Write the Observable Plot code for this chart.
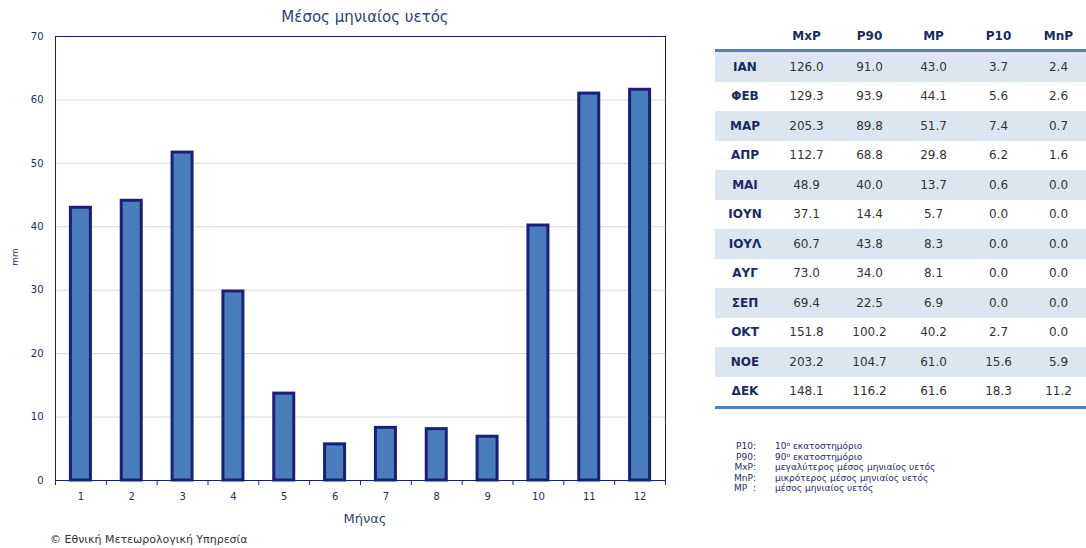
<!DOCTYPE html>
<html>
<head>
<meta charset="utf-8">
<script src="https://cdn.jsdelivr.net/npm/d3@7"></script>
<script src="https://cdn.jsdelivr.net/npm/@observablehq/plot@0.6"></script>
<style>
  html, body { margin: 0; padding: 0; background: #fff; }
  #wrap { position: relative; width: 1086px; height: 548px; overflow: hidden; font-family: "DejaVu Sans", Verdana, sans-serif; }
  .abs { position: absolute; white-space: nowrap; }
  #title { left: 0; width: 730px; top: 8px; text-align: center; font-size: 15px; color: #2f3f6e; }
  #xlabel { left: 0; width: 730px; top: 511px; text-align: center; font-size: 13px; color: #2f3f6e; }
  #ylabel { left: 6px; top: 252px; font-size: 9px; color: #1f2b5f; transform: rotate(-90deg); transform-origin: center; }
  #footer { left: 50px; top: 533px; font-size: 11px; color: #333; }
  #chart { left: 0; top: 0; }
  table.t { position: absolute; left: 715px; top: 22px; border-collapse: collapse; table-layout: fixed; font-size: 12px; color: #333; }
  table.t th { font-weight: bold; color: #1a2a5e; height: 27px; padding: 0; text-align: center; vertical-align: middle; border-bottom: 3px solid #4f81bd; }
  table.t td { height: 29.5px; padding: 0; text-align: center; vertical-align: middle; }
  table.t td.lab { font-weight: bold; color: #1a2a5e; }
  table.t tr.sh td { background: #dce6f1; }
  table.t tr.last td { border-bottom: 3px solid #4f81bd; }
  #legend { left: 730px; top: 441px; font-size: 9px; color: #1f2b5f; line-height: 10.5px; }
  #legend div { height: 10.5px; }
  #legend sup { font-size: 6px; line-height: 0; vertical-align: 3px; }
  #legend .k { display: inline-block; width: 26px; text-align: right; margin-right: 19px; }
</style>
</head>
<body>
<div id="wrap">
  <div id="chart" class="abs"></div>
  <div id="title" class="abs">Μέσος μηνιαίος υετός</div>
  <div id="xlabel" class="abs">Μήνας</div>
  <div id="ylabel" class="abs">mm</div>
  <div id="footer" class="abs">© Εθνική Μετεωρολογική Υπηρεσία</div>
  <div id="legend" class="abs"></div>
</div>
<script>
// ---- data ----
const months = [1, 2, 3, 4, 5, 6, 7, 8, 9, 10, 11, 12];
const meanRain = [43.0, 44.1, 51.7, 29.8, 13.7, 5.7, 8.3, 8.1, 6.9, 40.2, 61.0, 61.6];
const yTicks = [0, 10, 20, 30, 40, 50, 60, 70];

const monthAbbr = ["ΙΑΝ", "ΦΕΒ", "ΜΑΡ", "ΑΠΡ", "ΜΑΙ", "ΙΟΥΝ", "ΙΟΥΛ", "ΑΥΓ", "ΣΕΠ", "ΟΚΤ", "ΝΟΕ", "ΔΕΚ"];
const colHeaders = ["MxP", "P90", "MP", "P10", "MnP"];
const MxP = [126.0, 129.3, 205.3, 112.7, 48.9, 37.1, 60.7, 73.0, 69.4, 151.8, 203.2, 148.1];
const P90 = [91.0, 93.9, 89.8, 68.8, 40.0, 14.4, 43.8, 34.0, 22.5, 100.2, 104.7, 116.2];
const MP  = [43.0, 44.1, 51.7, 29.8, 13.7, 5.7, 8.3, 8.1, 6.9, 40.2, 61.0, 61.6];
const P10 = [3.7, 5.6, 7.4, 6.2, 0.6, 0.0, 0.0, 0.0, 0.0, 2.7, 15.6, 18.3];
const MnP = [2.4, 2.6, 0.7, 1.6, 0.0, 0.0, 0.0, 0.0, 0.0, 0.0, 5.9, 11.2];

const legendKeys = ["P10:", "P90:", "MxP:", "MnP:", "MP\u00a0\u00a0:"];
const legendTexts = ["10<sup>ο</sup> εκατοστημόριο", "90<sup>ο</sup> εκατοστημόριο",
  "μεγαλύτερος μέσος μηνιαίος υετός", "μικρότερος μέσος μηνιαίος υετός", "μέσος μηνιαίος υετός"];

// ---- chart ----
const rows = months.map((m, i) => ({month: m, value: meanRain[i]}));
const W = 680, ML = 55, MR = 15;
const step = (W - ML - MR) / months.length;
const navy = "#1b1f7c";
const textCol = "#1f2b5f";

const chart = Plot.plot({
  width: W,
  height: 530,
  marginLeft: ML,
  marginRight: MR,
  marginTop: 36,
  marginBottom: 50,
  style: {fontFamily: "DejaVu Sans, Verdana, sans-serif", background: "transparent"},
  x: {type: "band", domain: months, padding: 0, round: false, label: null},
  y: {domain: [0, 70], label: null},
  marks: [
    Plot.gridY(yTicks.slice(1, -1), {stroke: "#d9d9d9", strokeOpacity: 1}),
    Plot.barY(rows, {x: "month", y: "value", fill: "#4a7dbb", stroke: navy, strokeWidth: 3,
      insetLeft: (step - 20) / 2, insetRight: (step - 20) / 2}),
    Plot.frame({stroke: navy, strokeWidth: 1}),
    Plot.axisY(yTicks, {tickSize: 0, tickPadding: 12, fontSize: 10, fill: textCol, label: null}),
    Plot.axisX({tickSize: 0, tickPadding: 12, fontSize: 10, fill: textCol, label: null}),
    Plot.axisX(months, {tickSize: 5, stroke: navy, tickFormat: () => "", dx: -step / 2, label: null}),
    Plot.axisX([12], {tickSize: 5, stroke: navy, tickFormat: () => "", dx: step / 2, label: null})
  ]
});
document.getElementById("chart").appendChild(chart);

// ---- table ----
const widths = [60, 63, 63, 65, 65, 55];
const table = document.createElement("table");
table.className = "t";
const cg = document.createElement("colgroup");
widths.forEach(w => { const c = document.createElement("col"); c.style.width = w + "px"; cg.appendChild(c); });
table.appendChild(cg);
const thead = document.createElement("tr");
["", ...colHeaders].forEach(h => { const th = document.createElement("th"); th.textContent = h; thead.appendChild(th); });
table.appendChild(thead);
const cols = [MxP, P90, MP, P10, MnP];
monthAbbr.forEach((name, i) => {
  const tr = document.createElement("tr");
  if (i % 2 === 0) tr.classList.add("sh");
  if (i === monthAbbr.length - 1) tr.classList.add("last");
  const td0 = document.createElement("td"); td0.className = "lab"; td0.textContent = name; tr.appendChild(td0);
  cols.forEach(c => { const td = document.createElement("td"); td.textContent = c[i].toFixed(1); tr.appendChild(td); });
  table.appendChild(tr);
});
document.getElementById("wrap").appendChild(table);

// ---- legend ----
document.getElementById("legend").innerHTML = legendKeys.map((k, i) =>
  `<div><span class="k">${k}</span>${legendTexts[i]}</div>`).join("");
</script>
</body>
</html>
